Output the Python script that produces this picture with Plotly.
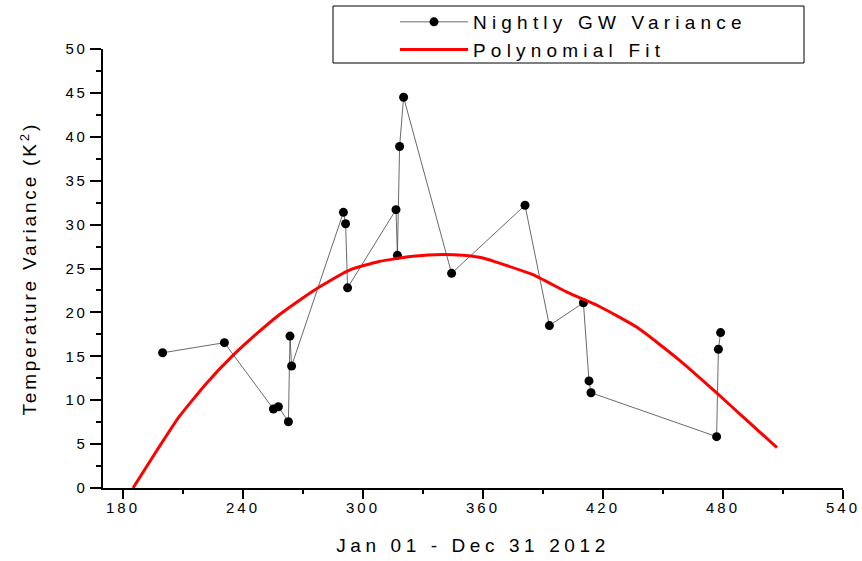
import plotly.graph_objects as go

# Nightly GW variance (day index, variance K^2)
day = [199.8, 230.7, 255.2, 257.7, 262.7, 263.5, 264.3, 290.2, 291.3, 292.3,
       316.5, 317.2, 318.3, 320.3, 344.3, 381.0, 393.2, 410.2, 413.0, 414.0,
       476.8, 477.7, 478.8]
variance = [15.4, 16.55, 9.0, 9.26, 7.55, 17.3, 13.9, 31.4, 30.1, 22.8,
            31.7, 26.5, 38.9, 44.5, 24.45, 32.2, 18.5, 21.1, 12.2, 10.85,
            5.85, 15.8, 17.7]

# Polynomial fit curve
fit_day = [185, 197, 208, 222, 235, 247, 258, 269, 279, 293, 308, 325, 340,
           350, 360, 367, 385, 402, 418, 437, 458, 477, 490, 507]
fit_val = [0.0, 4.3, 8.1, 12.0, 15.1, 17.6, 19.7, 21.5, 23.0, 24.8, 25.8, 26.4,
           26.6, 26.5, 26.2, 25.7, 24.3, 22.3, 20.7, 18.3, 14.6, 10.8, 8.1, 4.6]

x_ticks = [180, 240, 300, 360, 420, 480, 540]
y_ticks = [0, 5, 10, 15, 20, 25, 30, 35, 40, 45, 50]

FONT = "Liberation Sans, Arial, sans-serif"
W, H = 862, 561


def spaced(text, px):
    return f'<span style="letter-spacing:{px}px">{text}</span>'


fig = go.Figure()
fig.add_trace(go.Scatter(
    x=day, y=variance, mode="lines+markers",
    name=spaced("Nightly GW Variance", 5.2),
    line=dict(color="#444444", width=0.8),
    marker=dict(color="black", size=9, symbol="circle"),
))
fig.add_trace(go.Scatter(
    x=fit_day, y=fit_val, mode="lines",
    name=spaced("Polynomial Fit", 5.2),
    line=dict(color="#ff0000", width=3, shape="spline", smoothing=0.5),
))

fig.update_layout(
    width=W, height=H,
    margin=dict(l=103, r=19, t=49, b=73, autoexpand=False),
    paper_bgcolor="white", plot_bgcolor="white",
    font=dict(family=FONT, color="black"),
    showlegend=True,
    legend=dict(
        xref="container", yref="container",
        x=395 / W, y=1 - 3 / H, xanchor="left", yanchor="top",
        bgcolor="rgba(0,0,0,0)", borderwidth=0,
        font=dict(family=FONT, size=19, color="black"),
        itemwidth=68, tracegroupgap=0,
    ),
    shapes=[dict(type="rect", xref="paper", yref="paper",
                 x0=(333 - 103) / 740, x1=(804 - 103) / 740,
                 y0=(488 - 6) / 439, y1=(488 - 63) / 439,
                 line=dict(color="black", width=1), fillcolor="white", layer="below")],
    annotations=[dict(
        text=spaced("Temperature Variance (K<sup>2</sup>)", 2.8),
        xref="paper", yref="paper", x=(28 - 103) / 740, y=0.5,
        xanchor="center", yanchor="middle", textangle=-90, showarrow=False,
        font=dict(family=FONT, size=19, color="black"),
    )],
)

fig.update_xaxes(
    range=[170, 540], showgrid=False, zeroline=False, automargin=False,
    showline=True, linecolor="black", linewidth=1.5,
    ticks="outside", ticklen=9, tickwidth=1.5, tickcolor="black",
    tickvals=x_ticks, ticktext=[spaced(str(v), 3) for v in x_ticks],
    tickfont=dict(family=FONT, size=15, color="black"),
    ticklabelstandoff=-4,
    minor=dict(ticks="outside", ticklen=4, tickwidth=1.5, tickcolor="black", dtick=30, tick0=180),
    title=dict(text=spaced("Jan 01 - Dec 31 2012", 4.6),
               font=dict(family=FONT, size=19, color="black"), standoff=24),
)
fig.update_yaxes(
    range=[0, 50], showgrid=False, zeroline=False, automargin=False,
    showline=True, linecolor="black", linewidth=1.5,
    ticks="outside", ticklen=11, tickwidth=1.5, tickcolor="black",
    tickvals=y_ticks,
    ticktext=[spaced(str(v), 2.5) for v in y_ticks],
    tickfont=dict(family=FONT, size=15, color="black"),
    minor=dict(ticks="outside", ticklen=5, tickwidth=1.5, tickcolor="black", dtick=2.5, tick0=0),
)

fig.write_html("out.html", post_script="document.body.style.margin='0';",
               config={"displayModeBar": False})
